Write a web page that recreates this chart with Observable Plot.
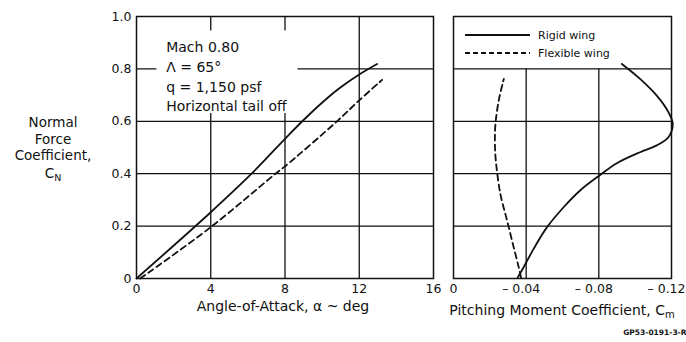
<!DOCTYPE html>
<html><head><meta charset="utf-8">
<script src="https://cdn.jsdelivr.net/npm/d3@7"></script>
<script src="https://cdn.jsdelivr.net/npm/@observablehq/plot@0.6"></script>
<style>
body{margin:0;background:#fff}
#chart{position:relative;width:686px;height:342px;font-family:"DejaVu Sans",sans-serif;background:#fff}
#chart svg{position:absolute;top:0;overflow:visible}
</style></head><body><div id="chart"></div>
<script>
// ---- data ----
const alphaRigid = [0, 4, 6.2, 8, 9, 10.3, 11, 12, 12.96];
const cnRigid    = [0, 0.253, 0.4, 0.533, 0.605, 0.69, 0.73, 0.779, 0.819];
const alphaFlex  = [0.2, 4, 7.49, 8, 10.8, 12, 13.23];
const cnFlex     = [0, 0.196, 0.4, 0.428, 0.6, 0.68, 0.758];
const cmRigid    = [-0.0353, -0.0386, -0.0441, -0.0515, -0.0606, -0.0697, -0.0807, -0.0899, -0.1027, -0.1119, -0.1183, -0.1207, -0.1183, -0.1119, -0.1027, -0.0927];
const cnRigidCm  = [0.003, 0.043, 0.113, 0.196, 0.272, 0.336, 0.395, 0.44, 0.482, 0.508, 0.539, 0.59, 0.635, 0.698, 0.762, 0.819];
const cmFlex     = [-0.0372, -0.0359, -0.0331, -0.0295, -0.0258, -0.0233, -0.0228, -0.0231, -0.0249, -0.0277];
const cnFlexCm   = [0.003, 0.043, 0.12, 0.221, 0.323, 0.45, 0.52, 0.59, 0.679, 0.762];
const xTicksLeft  = [0, 4, 8, 12, 16];
const xTicksRight = [0, -0.04, -0.08, -0.12];
const yTicks      = [0, 0.2, 0.4, 0.6, 0.8, 1.0];
const yTickLabels = ["0", "0.2", "0.4", "0.6", "0.8", "1.0"];
const annotation  = ["Mach 0.80", "\u039B = 65\u00B0", "q = 1,150 psf", "Horizontal tail off"];
const seriesNames = ["Rigid wing", "Flexible wing"];
const xTitleLeft  = "Angle-of-Attack, \u03B1 ~ deg";
const yTitleLines = ["Normal", "Force", "Coefficient,"];
const figCode     = "GP53-0191-3-R";

const leftRigid = alphaRigid.map((a, i) => ({x: a, y: cnRigid[i]}));
const leftFlex  = alphaFlex.map((a, i) => ({x: a, y: cnFlex[i]}));
const rightRigid = cmRigid.map((c, i) => ({x: c, y: cnRigidCm[i]}));
const rightFlex  = cmFlex.map((c, i) => ({x: c, y: cnFlexCm[i]}));

const ink = "#111";
const gridOpt = {stroke: ink, strokeOpacity: 1, strokeWidth: 1.3};
const style = {fontFamily: "DejaVu Sans, sans-serif", fontSize: "12.5px", color: ink, background: "transparent", overflow: "visible"};

const left = Plot.plot({
  width: 450, height: 342, marginLeft: 136, marginRight: 17, marginTop: 16, marginBottom: 64,
  style,
  x: {domain: [0, 16]},
  y: {domain: [0, 1]},
  marks: [
    Plot.gridX({ticks: xTicksLeft.slice(1, -1), ...gridOpt}),
    Plot.gridY({ticks: yTicks.slice(1, -1), ...gridOpt}),
    Plot.rect([0], {x1: () => 1.1, x2: () => 8.7, y1: () => 0.63, y2: () => 0.945, fill: "white"}),
    Plot.frame({stroke: ink, strokeWidth: 1.5}),
    Plot.axisX({ticks: xTicksLeft, tickSize: 0, tickPadding: 6, label: null, fontSize: 12.5}),
    Plot.axisY({ticks: yTicks, tickSize: 0, tickPadding: 5, label: null, fontSize: 12.5,
      tickFormat: d => yTickLabels[yTicks.indexOf(d)]}),
    Plot.line(leftRigid, {x: "x", y: "y", curve: "catmull-rom", stroke: ink, strokeWidth: 1.8}),
    Plot.line(leftFlex, {x: "x", y: "y", curve: "catmull-rom", stroke: ink, strokeWidth: 1.8, strokeDasharray: "6,4"}),
    Plot.text([annotation.join("\n")], {x: () => 1.6, y: () => 0.917, text: d => d, textAnchor: "start",
      lineAnchor: "top", lineHeight: 1.41, fontSize: 14, fill: ink}),
    Plot.text([xTitleLeft], {frameAnchor: "bottom", dy: 32, dx: -2, text: d => d, fontSize: 14, fill: ink})
  ]
});
left.style.left = "0px";

const right = Plot.plot({
  width: 246, height: 342, marginLeft: 13, marginRight: 15, marginTop: 16, marginBottom: 64,
  style,
  x: {domain: [0, -0.12]},
  y: {domain: [0, 1], axis: null},
  marks: [
    Plot.ruleX(xTicksRight.slice(1, -1), {x: d => d, y1: () => 0, y2: () => 0.8, ...gridOpt}),
    Plot.gridY({ticks: yTicks.slice(1, -1), ...gridOpt}),
    Plot.frame({stroke: ink, strokeWidth: 1.5}),
    Plot.axisX({ticks: [xTicksRight[0]], tickSize: 0, tickPadding: 6, label: null, fontSize: 12.5, tickFormat: () => "0"}),
    Plot.axisX({ticks: xTicksRight.slice(1), tickSize: 0, tickPadding: 6, label: null, fontSize: 12.5, dx: -5,
      tickFormat: d => "\u2013 " + (-d).toFixed(2)}),
    Plot.line(rightRigid, {x: "x", y: "y", curve: "catmull-rom", stroke: ink, strokeWidth: 1.8}),
    Plot.line(rightFlex, {x: "x", y: "y", curve: "catmull-rom", stroke: ink, strokeWidth: 1.8, strokeDasharray: "6,4"}),
    Plot.text([figCode], {frameAnchor: "bottom-right", dx: 15, dy: 56, textAnchor: "end", text: d => d,
      fontSize: 7.5, fontWeight: "bold", fill: ink})
  ]
});
right.style.left = "440px";

const chart = document.getElementById("chart");
chart.appendChild(left);
chart.appendChild(right);

// y-axis title with subscript
const ls = d3.select(left);
const yt = ls.append("g").attr("font-family", "DejaVu Sans, sans-serif").attr("font-size", 13.5)
  .attr("fill", ink).attr("text-anchor", "middle");
const baselines = [127, 143.5, 160, 178];
yTitleLines.forEach((t, i) => yt.append("text").attr("x", 53).attr("y", baselines[i]).text(t));
const cn = yt.append("text").attr("x", 53).attr("y", baselines[3]);
cn.append("tspan").text("C");
cn.append("tspan").attr("font-size", 9.5).attr("dy", 3).text("N");

// right x title with subscript
const rs = d3.select(right);
const rt = rs.append("text").attr("x", (13 + 231) / 2).attr("y", 278 + 37)
  .attr("font-family", "DejaVu Sans, sans-serif").attr("font-size", 14).attr("fill", ink)
  .attr("text-anchor", "middle");
rt.append("tspan").text("Pitching Moment Coefficient, C");
rt.append("tspan").attr("font-size", 10).attr("dy", 3).text("m");

// legend
const lg = rs.append("g").attr("font-family", "DejaVu Sans, sans-serif").attr("font-size", 11)
  .attr("fill", ink).attr("text-anchor", "start");
[[35, null], [53, "5,3"]].forEach(([y, dash], i) => {
  const l = lg.append("line").attr("x1", 25).attr("x2", 90).attr("y1", y).attr("y2", y)
    .attr("stroke", ink).attr("stroke-width", 1.8);
  if (dash) l.attr("stroke-dasharray", dash);
  lg.append("text").attr("x", 98).attr("y", y + 4).text(seriesNames[i]);
});
</script></body></html>
